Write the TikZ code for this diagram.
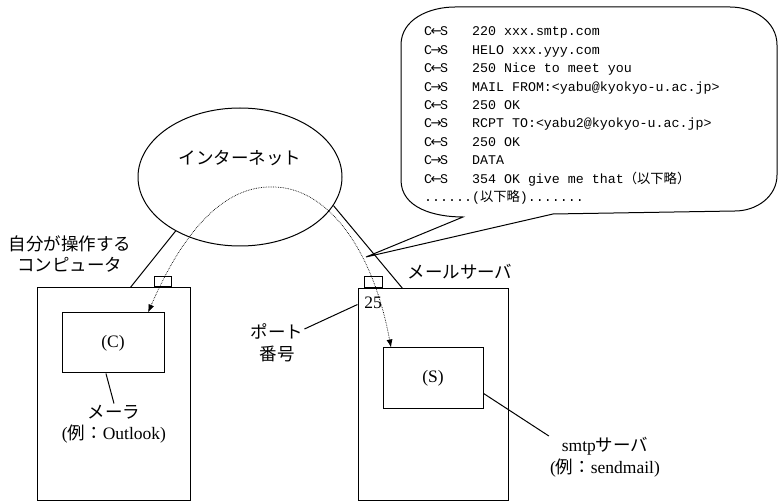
\documentclass[tikz,border=0pt]{standalone}
\usepackage{fontspec}
\setmainfont{Liberation Serif}
\newfontfamily\jp{Noto Sans CJK JP}
\newfontfamily\mono{Liberation Mono}
\newfontfamily\arw{DejaVu Sans}
\newcommand\tos{C\makebox[8pt][c]{\arw →}S}
\newcommand\frs{C\makebox[8pt][c]{\arw ←}S}
\usetikzlibrary{positioning}
\usetikzlibrary{shapes.geometric}
\usetikzlibrary{arrows.meta}

\tikzset{
  box/.style={draw, line width=1pt, inner sep=0pt},
  wire/.style={line width=1pt},
  lbl/.style={font=\fontsize{17.5}{21.5}\selectfont, align=center, inner sep=1pt},
  jplbl/.style={lbl, font=\jp\fontsize{17.5}{21.5}\selectfont},
  flow/.style={densely dotted, line width=0.7pt,
    {Latex[length=8pt,width=6pt]}-{Latex[length=8pt,width=6pt]}},
}

\begin{document}
\begin{tikzpicture}[x=1pt,y=-1pt]
\useasboundingbox (0,0) rectangle (779,502);
\node[box, minimum width=153pt, minimum height=212pt] (pc) at (113.5,394) {};
\node[box, minimum width=150pt, minimum height=211pt] (srv) at (433,394.5) {};
\node[box, minimum width=17pt, minimum height=10pt, above=0pt of pc.north, xshift=49pt] (pcport) {};
\node[box, minimum width=18pt, minimum height=11pt, above=0pt of srv.north, xshift=-60pt] (srvport) {};
\node[box, lbl, minimum width=102pt, minimum height=60pt] (c) at (113,343) {(C)};
\node[box, lbl, minimum width=100pt, minimum height=60pt] (s) at (433,378) {(S)};
\node[draw, ellipse, line width=1pt, minimum width=204pt, minimum height=138pt] (net) at (240,177) {};
\node[jplbl] (netname) at (240,158) {インターネット};
\node[jplbl] (me) at (70,254) {自分が操作する\\コンピュータ};
\node[jplbl] (srvname) at (460,272) {メールサーバ};
\node[lbl] (mailer) at (114,424) {{\jp メーラ}\\({\jp 例：}Outlook)};
\node[lbl] (smtp) at (605,457) {smtp{\jp サーバ}\\({\jp 例：}sendmail)};
\node[jplbl] (port) at (277,343) {ポート\\番号};
\node[lbl, inner sep=0pt] (portno) at (373,303) {25};
\coordinate (tip) at (366,257);

\draw[wire] (pc.81) -- (net.220);
\draw[wire] (srv.106) -- (net.343);
\draw[wire] (c.257) -- (mailer.north);
\draw[wire] (s.343) -- (smtp.north west);
\draw[wire] (port.27) -- (srv.130);
\draw[flow] (c.41) .. controls (175,250) and (215,185) .. (273,187)
  .. controls (325,187) and (372,245) .. (s.144);

\draw[line width=1pt] (553,214) -- (735,211) to[out=0,in=-90] (777,175) -- (777,45)
  to[out=90,in=0] (730,7) -- (455,7) to[out=180,in=90] (401,45) -- (401,180)
  to[out=-90,in=180] (463,217) -- (tip) -- cycle;
\node[anchor=base west, inner sep=0pt, font=\mono\fontsize{13.3}{18.4}\selectfont] (log) at (424,36) {%
  \begin{tabular}[t]{@{}l@{\hspace{24pt}}l@{}}
  \frs & 220 xxx.smtp.com\\
  \tos & HELO xxx.yyy.com\\
  \frs & 250 Nice to meet you\\
  \tos & MAIL FROM:<yabu@kyokyo-u.ac.jp>\\
  \frs & 250 OK\\
  \tos & RCPT TO:<yabu2@kyokyo-u.ac.jp>\\
  \frs & 250 OK\\
  \tos & DATA\\
  \frs & 354 OK give me that{\jp （以下略）}\\
  \multicolumn{2}{@{}l@{}}{......({\jp 以下略}).......}
  \end{tabular}};
\end{tikzpicture}
\end{document}
